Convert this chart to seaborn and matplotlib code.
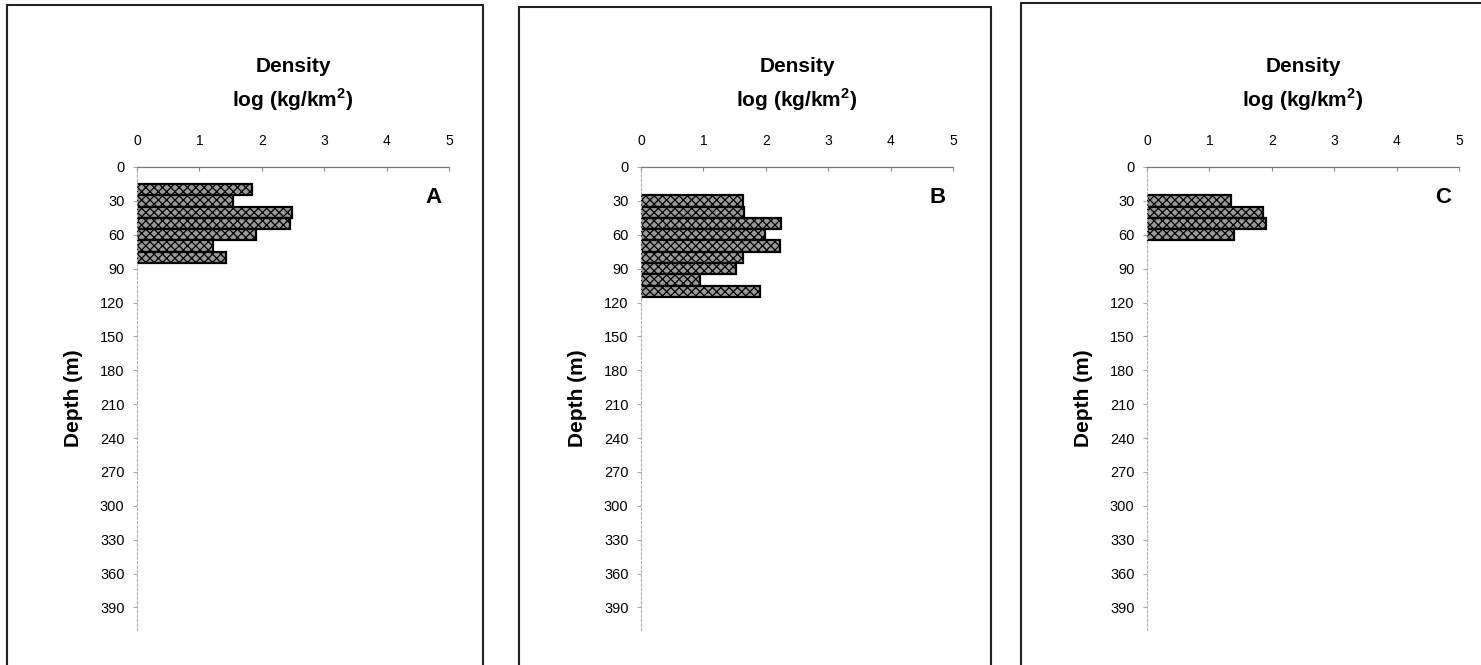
import numpy as np
import pandas as pd
import matplotlib
matplotlib.use("Agg")
import matplotlib.pyplot as plt
from matplotlib.lines import Line2D
import seaborn as sns

sns.set_style("white")
plt.rcParams["font.family"] = ["Liberation Sans", "DejaVu Sans"]
plt.rcParams["mathtext.fontset"] = "custom"
plt.rcParams["mathtext.rm"] = "Liberation Sans"
plt.rcParams["mathtext.bf"] = "Liberation Sans:bold"
plt.rcParams["hatch.linewidth"] = 0.9
plt.rcParams["text.color"] = "black"
plt.rcParams["axes.labelcolor"] = "black"
plt.rcParams["xtick.labelcolor"] = "black"
plt.rcParams["ytick.labelcolor"] = "black"

# --- Data ---
depth_a = [20, 30, 40, 50, 60, 70, 80]
dens_a = [1.85, 1.54, 2.49, 2.45, 1.91, 1.22, 1.43]

depth_b = [30, 40, 50, 60, 70, 80, 90, 100, 110]
dens_b = [1.63, 1.65, 2.25, 1.98, 2.23, 1.64, 1.52, 0.94, 1.90]

depth_c = [30, 40, 50, 60]
dens_c = [1.35, 1.86, 1.91, 1.39]

panel_labels = ["A", "B", "C"]
x_ticks = [0, 1, 2, 3, 4, 5]
y_ticks = list(range(0, 391, 30))

W, H = 1481, 665
fig = plt.figure(figsize=(W / 100, H / 100), dpi=100)
fig.patch.set_facecolor("white")

# axes positions in pixels: (left x, right x)
ax_px = [(137, 449), (641, 953), (1147, 1459)]
top_px, bot_px = 167, 630

panels = [(depth_a, dens_a), (depth_b, dens_b), (depth_c, dens_c)]

for (x0, x1), (depth, dens), lab in zip(ax_px, panels, panel_labels):
    ax = fig.add_axes([x0 / W, 1 - bot_px / H, (x1 - x0) / W, (bot_px - top_px) / H])
    df = pd.DataFrame({"depth": depth, "density": dens})
    sns.barplot(data=df, x="density", y="depth", orient="h", native_scale=True,
                color="#9a9a9a", edgecolor="black", linewidth=1.6, width=1.0, ax=ax)
    for p in ax.patches:
        p.set_hatch("xxxx")

    ax.set_xlim(0, 5)
    ax.set_ylim(410, 0)
    ax.set_xticks(x_ticks)
    ax.set_yticks(y_ticks)
    ax.xaxis.tick_top()
    ax.tick_params(axis="x", direction="in", length=3, color="#888888",
                   labelsize=10, pad=14)
    ax.tick_params(axis="y", direction="out", length=3, color="#aaaaaa",
                   labelsize=10.5, pad=6, left=True)
    ax.set_xlabel("")
    ax.set_ylabel("Depth (m)", fontsize=15, fontweight="bold", labelpad=12)

    for s in ["right", "bottom"]:
        ax.spines[s].set_visible(False)
    ax.spines["top"].set_color("#777777")
    ax.spines["top"].set_linewidth(0.9)
    ax.spines["left"].set_color("#b0b0b0")
    ax.spines["left"].set_linewidth(0.8)
    ax.spines["left"].set_linestyle((0, (2, 2)))

    ax.text(0.5, 1 + (top_px - 66) / (bot_px - top_px), "Density",
            transform=ax.transAxes, ha="center", va="center",
            fontsize=15, fontweight="bold")
    ax.text(0.5, 1 + (top_px - 100) / (bot_px - top_px), r"log (kg/km$^{\mathbf{2}}$)",
            transform=ax.transAxes, ha="center", va="center",
            fontsize=15, fontweight="bold")
    ax.text(4.75, 27, lab, ha="center", va="center", fontsize=16, fontweight="bold")

# panel frames (open at bottom)
frames = [(7, 483, 5), (519, 991, 7), (1021, None, 3)]
for left, right, top in frames:
    yt = 1 - top / H
    fig.add_artist(Line2D([left / W, left / W], [0, yt], transform=fig.transFigure,
                          color="#222222", lw=1.5))
    r = right / W if right is not None else 1.0
    fig.add_artist(Line2D([left / W, r], [yt, yt], transform=fig.transFigure,
                          color="#222222", lw=1.5))
    if right is not None:
        fig.add_artist(Line2D([r, r], [0, yt], transform=fig.transFigure,
                              color="#222222", lw=1.5))

fig.savefig("out.png", dpi=100)
